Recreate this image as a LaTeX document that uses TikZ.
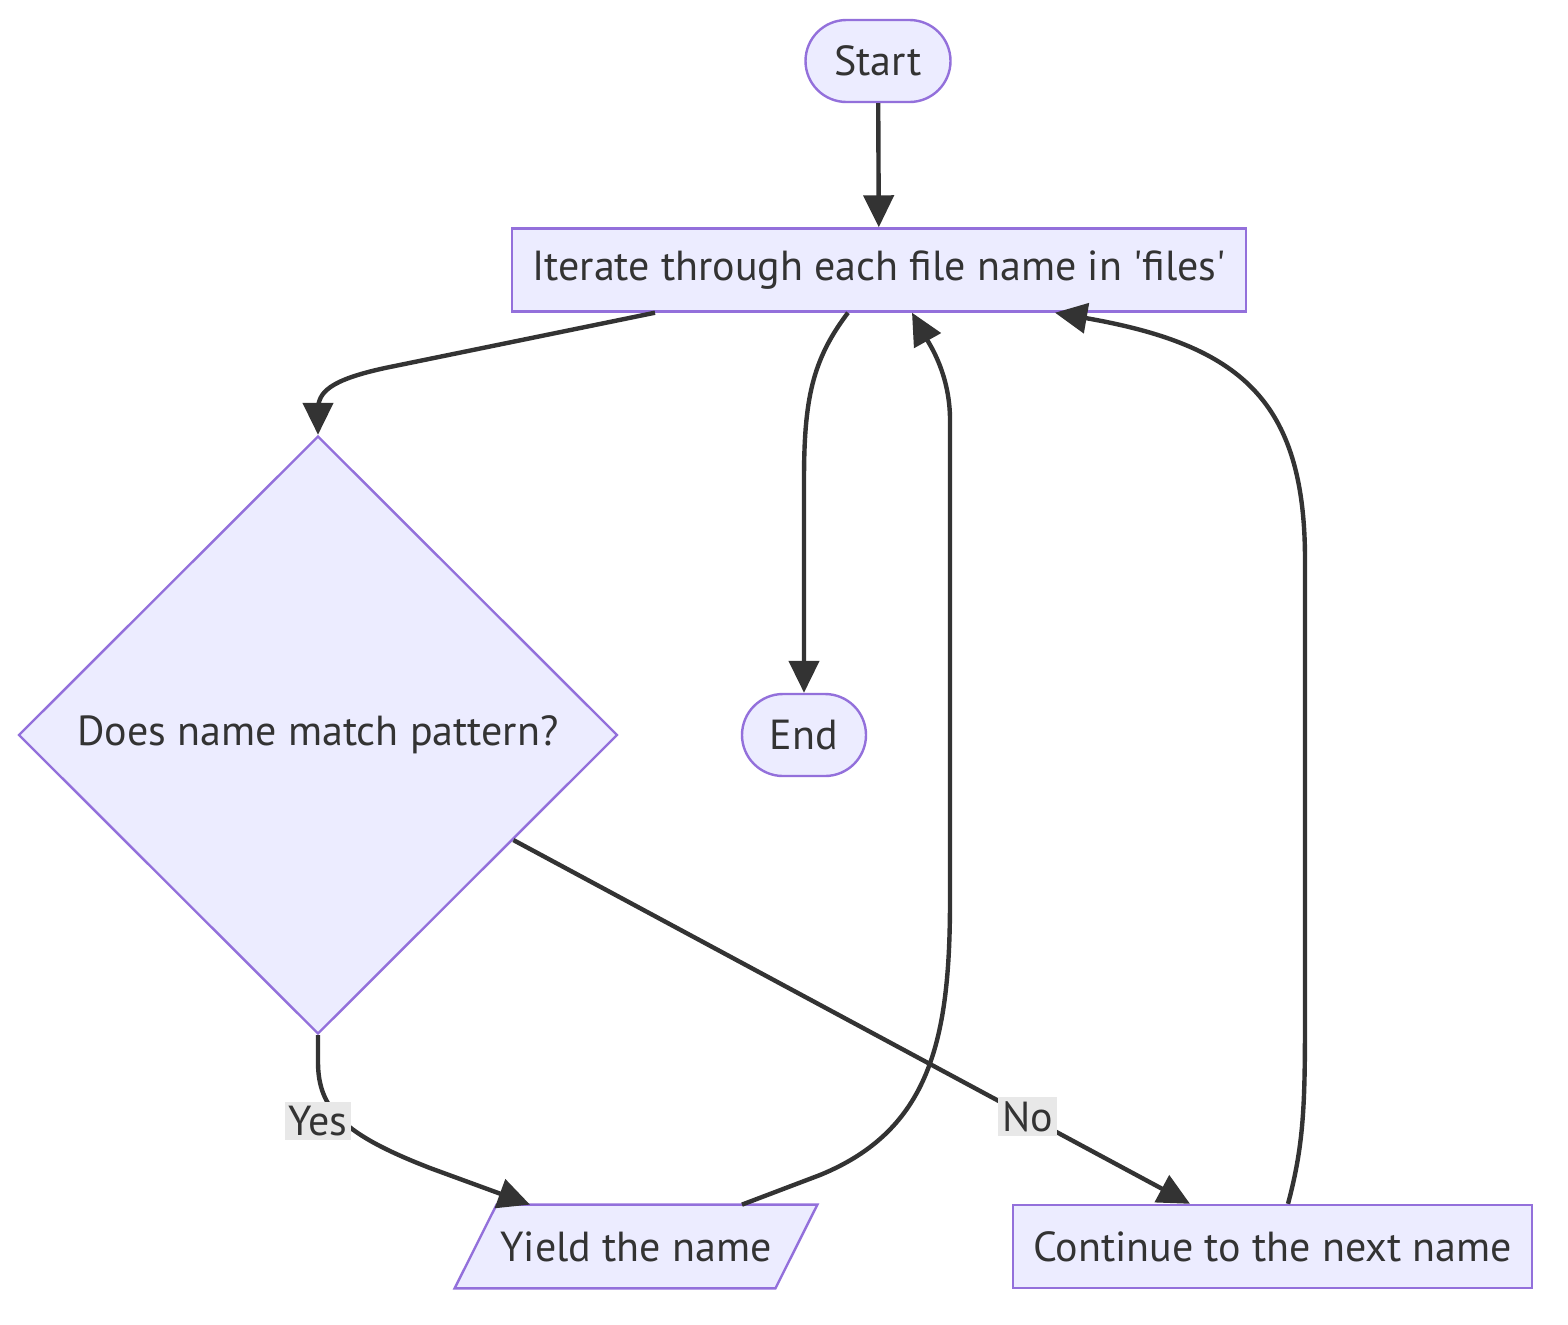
\documentclass[tikz,border=0pt]{standalone}
\usepackage{fontspec}
\setmainfont{PT Sans}
\usetikzlibrary{shapes.geometric,arrows.meta}
\definecolor{nodefill}{HTML}{ECECFF}
\definecolor{nodedraw}{HTML}{9370DB}
\definecolor{edgecol}{HTML}{333333}
\definecolor{lblfill}{HTML}{E8E8E8}
\begin{document}
\begin{tikzpicture}[x=0.5pt,y=-0.5pt,
  every node/.style={text=edgecol,font=\fontsize{21}{25}\selectfont},
  base/.style={draw=nodedraw,fill=nodefill,line width=1.2pt,inner sep=0pt},
  stadium/.style={base,rectangle,rounded corners=20.5pt,minimum height=41pt},
  procbox/.style={base,rectangle,minimum height=41.5pt},
  decision/.style={base,diamond,minimum width=299.5pt,minimum height=299pt},
  edge/.style={draw=edgecol,line width=2.2pt,-{Triangle[length=16pt,width=15pt]}},
  lbl/.style={fill=lblfill,inner sep=2pt,text=edgecol}]
\useasboundingbox (0,0) rectangle (1568,1324);

\node[stadium,minimum width=72.5pt] (start) at (878,61) {Start};
\node[procbox,minimum width=367pt] (iter) at (879,270) {Iterate through each file name in \textquotesingle files\textquotesingle};
\node[decision] (dia) at (318,735) {};
\node at (318,735) {Does name match pattern?};
\node[stadium,minimum width=62pt] (end) at (804,735) {End};
% parallelogram
\node[inner sep=0pt,minimum width=160pt,minimum height=41.5pt] (yield) at (636,1246.5) {};
\fill[nodefill,draw=nodedraw,line width=1.2pt] ([xshift=10.5pt]yield.north west) -- ([xshift=10.5pt]yield.north east) -- ([xshift=-10.5pt]yield.south east) -- ([xshift=-10.5pt]yield.south west) -- cycle;
\node at (yield.center) {Yield the name};
\node[procbox,minimum width=259.5pt] (cont) at (1272.5,1246.5) {Continue to the next name};

% edges
\draw[edge] (start) -- (iter);
\draw[edge] (iter.south -| 655,0) -- (385,368) .. controls (330,380) and (318,392) .. (318,410) -- (dia.north);
\draw[edge] (iter.south -| 848,0) .. controls (812,360) and (804,400) .. (804,480) -- (end.north);
\draw[edge] (dia.south) -- (318,1062) .. controls (318,1110) and (345,1135) .. (430,1168) -- (yield.north -| 530,0);
\draw[edge] (dia) -- node[lbl,pos=0.76] {No} (cont.north -| 1190,0);
\node[lbl] (yes) at (318,1121) {Yes};
\draw[edge] (yield.north -| 742,0) -- (820,1175) .. controls (930,1130) and (950,1040) .. (950,900) -- (950,420) .. controls (950,375) and (930,345) .. (iter.south -| 912,0);
\draw[edge] (cont.north -| 1288,0) .. controls (1305,1140) and (1305,1100) .. (1305,1000) -- (1305,560) .. controls (1305,400) and (1240,345) .. (iter.south -| 1055,0);
\end{tikzpicture}
\end{document}
